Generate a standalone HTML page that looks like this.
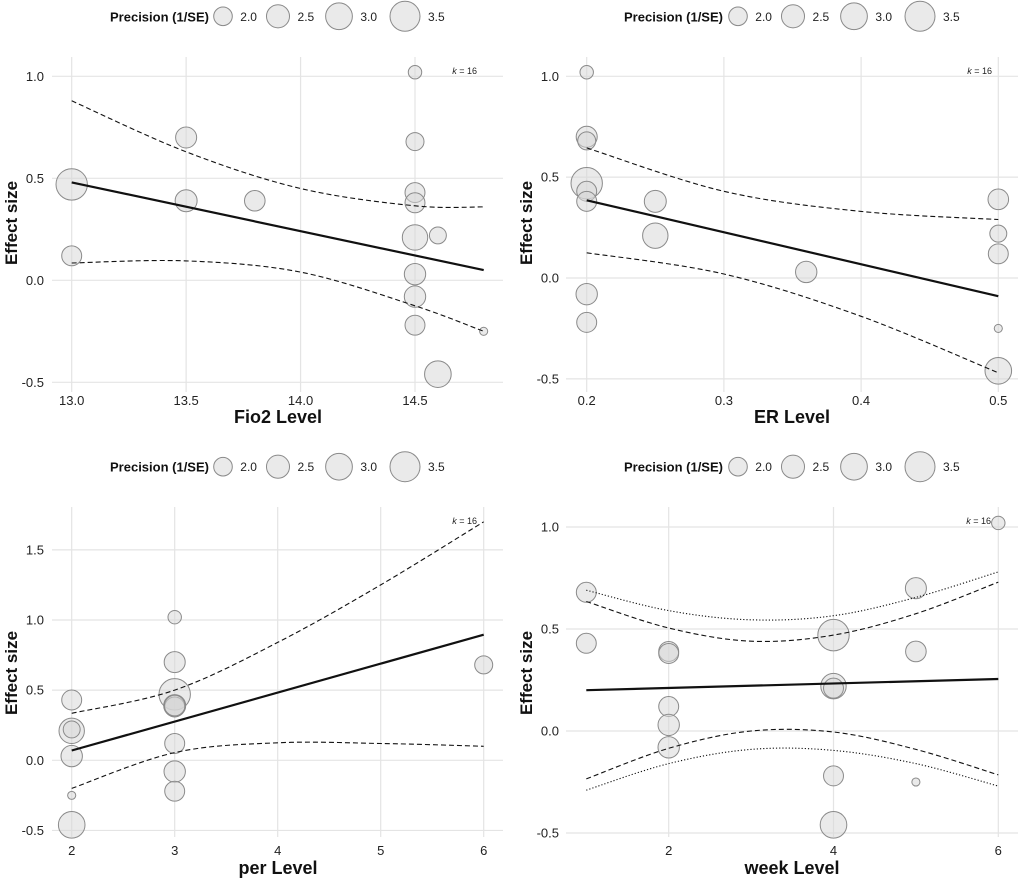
<!DOCTYPE html>
<html><head><meta charset="utf-8">
<style>
html,body{margin:0;padding:0;background:#fff;}
svg{display:block;font-family:"Liberation Sans",Arial,sans-serif;}
</style></head>
<body>
<svg id="chart" width="1022" height="881" viewBox="0 0 1022 881" xmlns="http://www.w3.org/2000/svg"></svg>
<script>
// ---- Panel 1: Fio2 ----
const p1X = [14.5,13.5,14.5,13.0,14.5,13.5,13.8,14.5,14.6,14.5,13.0,14.5,14.5,14.5,14.8,14.6];
const p1Y = [1.02,0.70,0.68,0.47,0.43,0.39,0.39,0.38,0.22,0.21,0.12,0.03,-0.08,-0.22,-0.25,-0.46];
const p1P = [1.55,2.26,1.94,3.73,2.14,2.37,2.21,2.14,1.84,2.81,2.14,2.30,2.30,2.14,1.24,2.98];
const p1FitX = [13.0,14.8];
const p1FitY = [0.48,0.05];
const p1CiX = [13.0,13.5,14.0,14.5,14.8];
const p1CiUp = [0.88,0.63,0.45,0.365,0.36];
const p1CiLo = [0.085,0.095,0.04,-0.125,-0.25];
const p1XTicks = [13.0,13.5,14.0,14.5];
const p1XTickLabels = ["13.0","13.5","14.0","14.5"];
const p1YTicks = [-0.5,0,0.5,1.0];
const p1YTickLabels = ["-0.5","0.0","0.5","1.0"];

// ---- Panel 2: ER ----
const p2X = [0.2,0.2,0.2,0.2,0.2,0.2,0.2,0.2,0.25,0.25,0.36,0.5,0.5,0.5,0.5,0.5];
const p2Y = [1.02,0.70,0.68,0.47,0.43,0.38,-0.08,-0.22,0.38,0.21,0.03,0.39,0.22,0.12,-0.25,-0.46];
const p2P = [1.55,2.26,1.94,3.73,2.14,2.14,2.30,2.14,2.37,2.81,2.30,2.21,1.84,2.14,1.24,2.98];
const p2FitX = [0.2,0.5];
const p2FitY = [0.385,-0.09];
const p2CiX = [0.2,0.3,0.4,0.5];
const p2CiUp = [0.645,0.43,0.33,0.29];
const p2CiLo = [0.125,0.02,-0.19,-0.47];
const p2XTicks = [0.2,0.3,0.4,0.5];
const p2XTickLabels = ["0.2","0.3","0.4","0.5"];
const p2YTicks = [-0.5,0,0.5,1.0];
const p2YTickLabels = ["-0.5","0.0","0.5","1.0"];

// ---- Panel 3: per ----
const p3X = [3,3,3,3,3,3,3,3,2,2,2,2,2,2,6,3];
const p3Y = [1.02,0.70,0.47,0.39,0.38,0.12,-0.08,-0.22,0.43,0.21,0.22,0.03,-0.25,-0.46,0.68,0.39];
const p3P = [1.55,2.26,3.73,2.37,2.14,2.14,2.30,2.14,2.14,2.81,1.84,2.30,1.24,2.98,1.94,2.21];
const p3FitX = [2,6];
const p3FitY = [0.07,0.895];
const p3CiX = [2,3,4,5,6];
const p3CiUp = [0.335,0.50,0.84,1.25,1.70];
const p3CiLo = [-0.20,0.055,0.125,0.12,0.10];
const p3XTicks = [2,3,4,5,6];
const p3XTickLabels = ["2","3","4","5","6"];
const p3YTicks = [-0.5,0,0.5,1.0,1.5];
const p3YTickLabels = ["-0.5","0.0","0.5","1.0","1.5"];

// ---- Panel 4: week ----
const p4X = [1,1,2,2,2,2,2,4,4,4,4,4,5,5,5,6];
const p4Y = [0.68,0.43,0.39,0.38,0.12,0.03,-0.08,0.47,0.22,0.21,-0.22,-0.46,0.70,0.39,-0.25,1.02];
const p4P = [2.14,2.14,2.14,2.14,2.14,2.30,2.30,3.73,2.81,2.14,2.14,2.98,2.26,2.21,1.24,1.55];
const p4FitX = [1,6];
const p4FitY = [0.20,0.255];
const p4CiX = [1,2,3,4,5,6];
const p4CiUp = [0.635,0.505,0.44,0.47,0.575,0.73];
const p4CiLo = [-0.235,-0.085,0.0,-0.005,-0.09,-0.215];
const p4PiUp = [0.69,0.59,0.545,0.565,0.655,0.78];
const p4PiLo = [-0.29,-0.16,-0.09,-0.095,-0.16,-0.27];
const p4XTicks = [2,4,6];
const p4XTickLabels = ["2","4","6"];
const p4YTicks = [-0.5,0,0.5,1.0];
const p4YTickLabels = ["-0.5","0.0","0.5","1.0"];

const legendVals = [2.0,2.5,3.0,3.5];
const legendLabels = ["2.0","2.5","3.0","3.5"];

const NS = "http://www.w3.org/2000/svg";
const svg = document.getElementById("chart");
function mk(tag, attrs, parent){
  const e = document.createElementNS(NS, tag);
  for (const k in attrs) e.setAttribute(k, attrs[k]);
  (parent||svg).appendChild(e);
  return e;
}
function radius(p){ return Math.sqrt(Math.max(4, -98 + 92.3*p)); }
function linear(d0,d1,r0,r1){ return v => r0 + (v-d0)/(d1-d0)*(r1-r0); }

function smoothPath(pts){
  if (pts.length < 3) return pts.map((p,i)=>(i?"L":"M")+p[0].toFixed(1)+","+p[1].toFixed(1)).join(" ");
  let d = "M"+pts[0][0].toFixed(1)+","+pts[0][1].toFixed(1);
  for (let i=0;i<pts.length-1;i++){
    const p0 = pts[Math.max(0,i-1)], p1 = pts[i], p2 = pts[i+1], p3 = pts[Math.min(pts.length-1,i+2)];
    const c1x = p1[0] + (p2[0]-p0[0])/6, c1y = p1[1] + (p2[1]-p0[1])/6;
    const c2x = p2[0] - (p3[0]-p1[0])/6, c2y = p2[1] - (p3[1]-p1[1])/6;
    d += ` C${c1x.toFixed(1)},${c1y.toFixed(1)} ${c2x.toFixed(1)},${c2y.toFixed(1)} ${p2[0].toFixed(1)},${p2[1].toFixed(1)}`;
  }
  return d;
}

function panel(cfg){
  const g = mk("g", {});
  
  
  const sx = linear(cfg.xd[0], cfg.xd[1], cfg.xr[0], cfg.xr[1]);
  const sy = linear(cfg.yd[0], cfg.yd[1], cfg.yr[0], cfg.yr[1]);
  cfg.xTicks.forEach((t,i)=>{
    const l = mk("line",{x1:sx(t),x2:sx(t),y1:cfg.gy[0],y2:cfg.gy[1],stroke:"#e4e4e4","stroke-width":1.2},g);
    
    
    const tx = mk("text",{x:sx(t),y:cfg.xTickY,"font-size":13,fill:"#222","text-anchor":"middle"},g);
    tx.textContent = cfg.xTickLabels[i];
    
    
  });
  cfg.yTicks.forEach((t,i)=>{
    const l = mk("line",{x1:cfg.gx[0],x2:cfg.gx[1],y1:sy(t),y2:sy(t),stroke:"#e4e4e4","stroke-width":1.2},g);
    
    
    const tx = mk("text",{x:cfg.yTickX,y:sy(t)+4.5,"font-size":13,fill:"#222","text-anchor":"end"},g);
    tx.textContent = cfg.yTickLabels[i];
    
    
  });
  cfg.px.forEach((x,i)=>{
    const c = mk("circle",{cx:sx(x),cy:sy(cfg.py[i]),r:radius(cfg.pp[i]),fill:"#d6d6d6","fill-opacity":0.5,stroke:"#8a8a8a","stroke-width":1},g);
    
    
  });
  function path(xs, ys, dash, w, nm){
    const pts = xs.map((x,i)=>[sx(x), sy(ys[i])]);
    const p = mk("path",{d:smoothPath(pts),fill:"none",stroke:"#111","stroke-width":w,"stroke-dasharray":dash},g);
    
    
  }
  path(cfg.ciX, cfg.ciUp, "5,3", 1.1, "ci-upper");
  path(cfg.ciX, cfg.ciLo, "5,3", 1.1, "ci-lower");
  if (cfg.piUp){
    path(cfg.ciX, cfg.piUp, "1.2,2", 1.1, "pi-upper");
    path(cfg.ciX, cfg.piLo, "1.2,2", 1.1, "pi-lower");
  }
  path(cfg.fitX, cfg.fitY, "none", 2.2, "regression-line");
  const k = mk("text",{x:cfg.kX,y:cfg.kY,"font-size":9,fill:"#222","text-anchor":"end"},g);
  k.innerHTML = '<tspan font-style="italic">k</tspan> = 16';
  
  
  const xt = mk("text",{x:cfg.xTitleX,y:cfg.xTitleY,"font-size":18,"font-weight":"bold",fill:"#111","text-anchor":"middle"},g);
  xt.textContent = cfg.xTitle;
  
  
  const yt = mk("text",{x:0,y:0,"font-size":17,"font-weight":"bold",fill:"#111","text-anchor":"middle",transform:`translate(${cfg.yTitleX},${cfg.yTitleY}) rotate(-90)`},g);
  yt.textContent = "Effect size";
  
  
  const lg = mk("g",{},g);
  
  
  const lt = mk("text",{x:cfg.legX,y:cfg.legY+5,"font-size":13,"font-weight":"bold",fill:"#111"},lg);
  lt.textContent = "Precision (1/SE)";
  
  
  legendVals.forEach((v,i)=>{
    const c = mk("circle",{cx:cfg.legCx[i],cy:cfg.legY,r:radius(v),fill:"#d6d6d6","fill-opacity":0.5,stroke:"#8a8a8a","stroke-width":1},lg);
    
    
    const t = mk("text",{x:cfg.legCx[i]+radius(v)+8,y:cfg.legY+4.5,"font-size":12,fill:"#222"},lg);
    t.textContent = legendLabels[i];
    
    
  });
}

panel({name:"panel-fio2",xd:[13.0,14.5],xr:[71.7,415],yd:[0,1],yr:[280.3,76.3],gx:[52,503],gy:[57,392],
  xTicks:p1XTicks,xTickLabels:p1XTickLabels,yTicks:p1YTicks,yTickLabels:p1YTickLabels,xTickY:405,yTickX:44,
  px:p1X,py:p1Y,pp:p1P,fitX:p1FitX,fitY:p1FitY,ciX:p1CiX,ciUp:p1CiUp,ciLo:p1CiLo,
  kX:477,kY:74,xTitle:"Fio2 Level",xTitleX:278,xTitleY:423,yTitleX:17,yTitleY:223,
  legX:110,legY:16.3,legCx:[223,278,339,405]});
panel({name:"panel-er",xd:[0.2,0.5],xr:[586.7,998.3],yd:[0,1],yr:[278,76.3],gx:[566,1018],gy:[57,392],
  xTicks:p2XTicks,xTickLabels:p2XTickLabels,yTicks:p2YTicks,yTickLabels:p2YTickLabels,xTickY:405,yTickX:559,
  px:p2X,py:p2Y,pp:p2P,fitX:p2FitX,fitY:p2FitY,ciX:p2CiX,ciUp:p2CiUp,ciLo:p2CiLo,
  kX:992,kY:74,xTitle:"ER Level",xTitleX:792,xTitleY:423,yTitleX:532,yTitleY:223,
  legX:624,legY:16.3,legCx:[738,793,854,920]});
panel({name:"panel-per",xd:[2,6],xr:[71.7,483.7],yd:[0,1],yr:[760.3,620],gx:[52,503],gy:[507,837],
  xTicks:p3XTicks,xTickLabels:p3XTickLabels,yTicks:p3YTicks,yTickLabels:p3YTickLabels,xTickY:855,yTickX:44,
  px:p3X,py:p3Y,pp:p3P,fitX:p3FitX,fitY:p3FitY,ciX:p3CiX,ciUp:p3CiUp,ciLo:p3CiLo,
  kX:477,kY:524,xTitle:"per Level",xTitleX:278,xTitleY:874,yTitleX:17,yTitleY:673,
  legX:110,legY:466.7,legCx:[223,278,339,405]});
panel({name:"panel-week",xd:[2,6],xr:[668.7,998.3],yd:[0,1],yr:[731,527],gx:[566,1018],gy:[507,837],
  xTicks:p4XTicks,xTickLabels:p4XTickLabels,yTicks:p4YTicks,yTickLabels:p4YTickLabels,xTickY:855,yTickX:559,
  px:p4X,py:p4Y,pp:p4P,fitX:p4FitX,fitY:p4FitY,ciX:p4CiX,ciUp:p4CiUp,ciLo:p4CiLo,piUp:p4PiUp,piLo:p4PiLo,
  kX:991,kY:524,xTitle:"week Level",xTitleX:792,xTitleY:874,yTitleX:532,yTitleY:673,
  legX:624,legY:466.7,legCx:[738,793,854,920]});
</script>
</body></html>
